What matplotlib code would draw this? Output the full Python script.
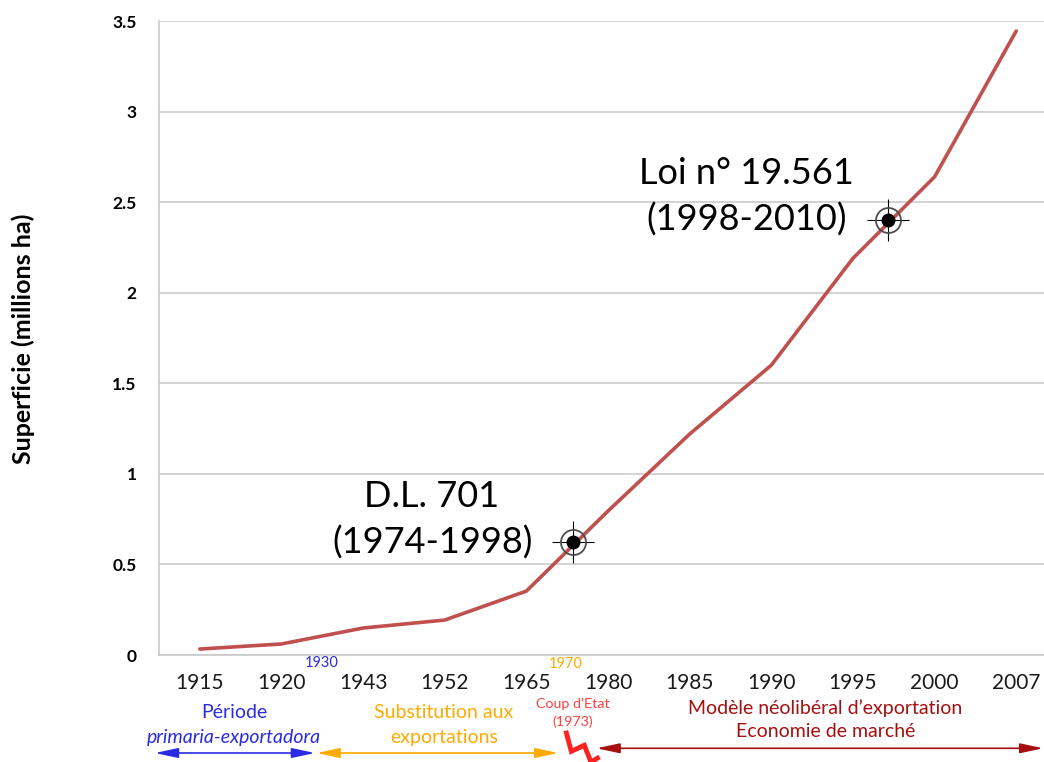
import matplotlib
matplotlib.use('Agg')
import matplotlib.pyplot as plt
import matplotlib.transforms as mtransforms

plt.rcParams['font.family'] = ['Lato', 'DejaVu Sans']

# data
years = ['1915', '1920', '1943', '1952', '1965', '1980', '1985', '1990', '1995', '2000', '2007']
surface = [0.033, 0.061, 0.149, 0.193, 0.353, 0.795, 1.22, 1.60, 2.19, 2.64, 3.445]

# laws marked on the curve (position between categories, value)
law_labels = ['D.L. 701\n(1974-1998)', 'Loi n° 19.561\n(1998-2010)']
law_x = [4.575, 8.43]
law_y = [0.625, 2.40]

yticks = [0, 0.5, 1, 1.5, 2, 2.5, 3, 3.5]
ytick_labels = ['0', '0.5', '1', '1.5', '2', '2.5', '3', '3.5']

fig = plt.figure(figsize=(10.44, 7.62), dpi=100)
ax = fig.add_axes([0.1523, 0.1404, 0.8602, 0.832])

x = list(range(len(years)))
ax.plot(x, surface, color='#C0504D', lw=2.6, solid_capstyle='round', zorder=3)

ax.set_xlim(-0.5, 10.5)
ax.set_ylim(0, 3.5)
ax.set_xticks(x)
ax.set_xticklabels(years, fontsize=15, color='#1a1a1a')
ax.set_yticks(yticks)
ax.set_yticklabels(ytick_labels, fontsize=12.5, fontweight='bold')
ax.tick_params(axis='both', length=0)
ax.tick_params(axis='y', pad=16)
ax.tick_params(axis='x', pad=13)
ax.grid(axis='y', color='#C6C6C6', lw=1.1)
ax.set_axisbelow(True)
for s in ['top', 'right']:
    ax.spines[s].set_visible(False)
for s in ['left', 'bottom']:
    ax.spines[s].set_color('#C6C6C6')
    ax.spines[s].set_linewidth(1.1)

fig.text(0.022, 0.555, 'Superficie (millions ha)', rotation=90, fontsize=18,
         fontweight='bold', ha='center', va='center')

# target markers + labels
for lx, ly in zip(law_x, law_y):
    ax.plot(lx, ly, marker='+', ms=30, mew=0.8, color='black', zorder=5)
    ax.plot(lx, ly, marker='o', ms=18, mfc='none', mec='#4d4d4d', mew=1.3, zorder=5)
    ax.plot(lx, ly, marker='o', ms=9, color='black', zorder=6)

ax.text(law_x[0] - 1.73, law_y[0] + 0.12, law_labels[0], fontsize=26, ha='center',
        va='center', linespacing=1.45)
ax.text(law_x[1] - 1.73, law_y[1] + 0.13, law_labels[1], fontsize=26, ha='center',
        va='center', linespacing=1.45)

# period annotations below the axis
tr = mtransforms.blended_transform_factory(ax.transData, fig.transFigure)
blue = '#2B2BE6'
orange = '#FFAA00'
red = '#FF4040'
darkred = '#A50F0F'

ax.text(1.49, 0.130, '1930', transform=tr, fontsize=10.5, color=blue, ha='center', va='center')
ax.text(4.48, 0.1286, '1970', transform=tr, fontsize=10.5, color=orange, ha='center', va='center')

ax.text(0.42, 0.0656, 'Période', transform=tr, fontsize=14, color=blue, ha='center', va='center')
ax.text(0.42, 0.0328, 'primaria-exportadora', transform=tr, fontsize=14, color=blue,
        style='italic', ha='center', va='center')
ax.text(2.99, 0.0656, 'Substitution aux', transform=tr, fontsize=14, color=orange,
        ha='center', va='center')
ax.text(2.99, 0.0328, 'exportations', transform=tr, fontsize=14, color=orange,
        ha='center', va='center')
ax.text(4.57, 0.076, 'Coup d\u2019Etat', transform=tr, fontsize=10.3, color=red, ha='center', va='center')
ax.text(4.57, 0.0525, '(1973)', transform=tr, fontsize=10.3, color=red, ha='center', va='center')
ax.text(7.66, 0.0709, 'Modèle néolibéral d\u2019exportation', transform=tr, fontsize=14,
        color=darkred, ha='center', va='center')
ax.text(7.66, 0.040, 'Economie de marché', transform=tr, fontsize=14, color=darkred,
        ha='center', va='center')

arrows = [(-0.55, 1.41, 0.0118, blue), (1.43, 4.39, 0.0118, orange), (4.86, 10.33, 0.018, darkred)]
for x0, x1, yf, c in arrows:
    ax.annotate('', xy=(x1, yf), xytext=(x0, yf), xycoords=tr, textcoords=tr,
                arrowprops=dict(arrowstyle='<|-|>,head_length=1.4,head_width=0.3',
                                color=c, lw=1.2, shrinkA=0, shrinkB=0),
                annotation_clip=False)

# lightning bolt for the coup
bolt_x = [4.49, 4.55, 4.71, 4.79, 4.87]
bolt_y = [0.038, 0.014, 0.022, 0.0, 0.005]
ax.plot(bolt_x, bolt_y, transform=tr, color='#FF2020', lw=3.5, clip_on=False,
        solid_joinstyle='miter')

fig.savefig('out.png', dpi=100)
